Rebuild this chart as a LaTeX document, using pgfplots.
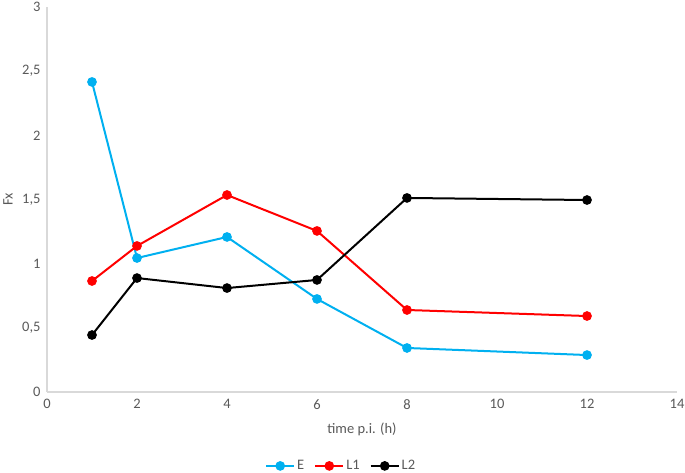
\documentclass[border=0pt]{standalone}
\usepackage{pgfplots}
\pgfplotsset{compat=1.18}
\usepackage{fontspec}
\setmainfont{Carlito}
\definecolor{cE}{HTML}{00B0F0}
\definecolor{cL1}{HTML}{FF0000}
\definecolor{cL2}{HTML}{000000}
\definecolor{axgray}{HTML}{D9D9D9}
\definecolor{txtgray}{HTML}{595959}
\begin{document}
\begin{tikzpicture}
\useasboundingbox (-47pt,-81pt) rectangle (638pt,392pt);
\begin{axis}[
  at={(0pt,0pt)}, anchor=south west,
  scale only axis, width=630pt, height=385pt,
  xmin=0, xmax=14, ymin=0, ymax=3,
  xtick={0,2,...,14}, ytick={0,0.5,...,3},
  axis x line*=bottom, axis y line*=left,
  axis line style={axgray, line width=1.2pt, -},
  major tick length=0pt,
  /pgf/number format/assume math mode=true,
  /pgf/number format/use comma,
  font=\fontsize{14.5}{16}\selectfont,
  tick label style={txtgray, font=\fontsize{14.5}{16}\selectfont},
  xticklabel style={yshift=-4pt},
  yticklabel style={xshift=-3pt},
  xlabel={time p.i. (h)},
  ylabel={Fx},
  xlabel style={at={(axis description cs:0.5,0)}, anchor=center, yshift=-37pt, txtgray},
  ylabel style={at={(axis description cs:0,0.5)}, anchor=center, yshift=39pt, txtgray},
  legend columns=3,
  legend style={at={(axis description cs:0.467,-0.192)}, anchor=center, draw=none, fill=none,
    text=txtgray, font=\fontsize{14.5}{16}\selectfont, inner sep=0pt,
    /tikz/every even column/.append style={column sep=8pt}},
  legend image code/.code={\draw[#1, line width=2pt] (0pt,0pt) -- (28pt,0pt);
     \fill[#1] (14pt,0pt) circle (3.8pt);},
  clip=false,
]
\addplot[cE, line width=2pt, mark=*, mark size=3.8pt] coordinates {
 (1,2.416) (2,1.044) (4,1.208) (6,0.725) (8,0.343) (12,0.288)};
\addlegendentry{E}
\addplot[cL1, line width=2pt, mark=*, mark size=3.8pt] coordinates {
 (1,0.865) (2,1.138) (4,1.535) (6,1.255) (8,0.639) (12,0.592)};
\addlegendentry{L1}
\addplot[cL2, line width=2pt, mark=*, mark size=3.8pt] coordinates {
 (1,0.444) (2,0.888) (4,0.810) (6,0.873) (8,1.512) (12,1.496)};
\addlegendentry{L2}
\end{axis}
\end{tikzpicture}
\end{document}
